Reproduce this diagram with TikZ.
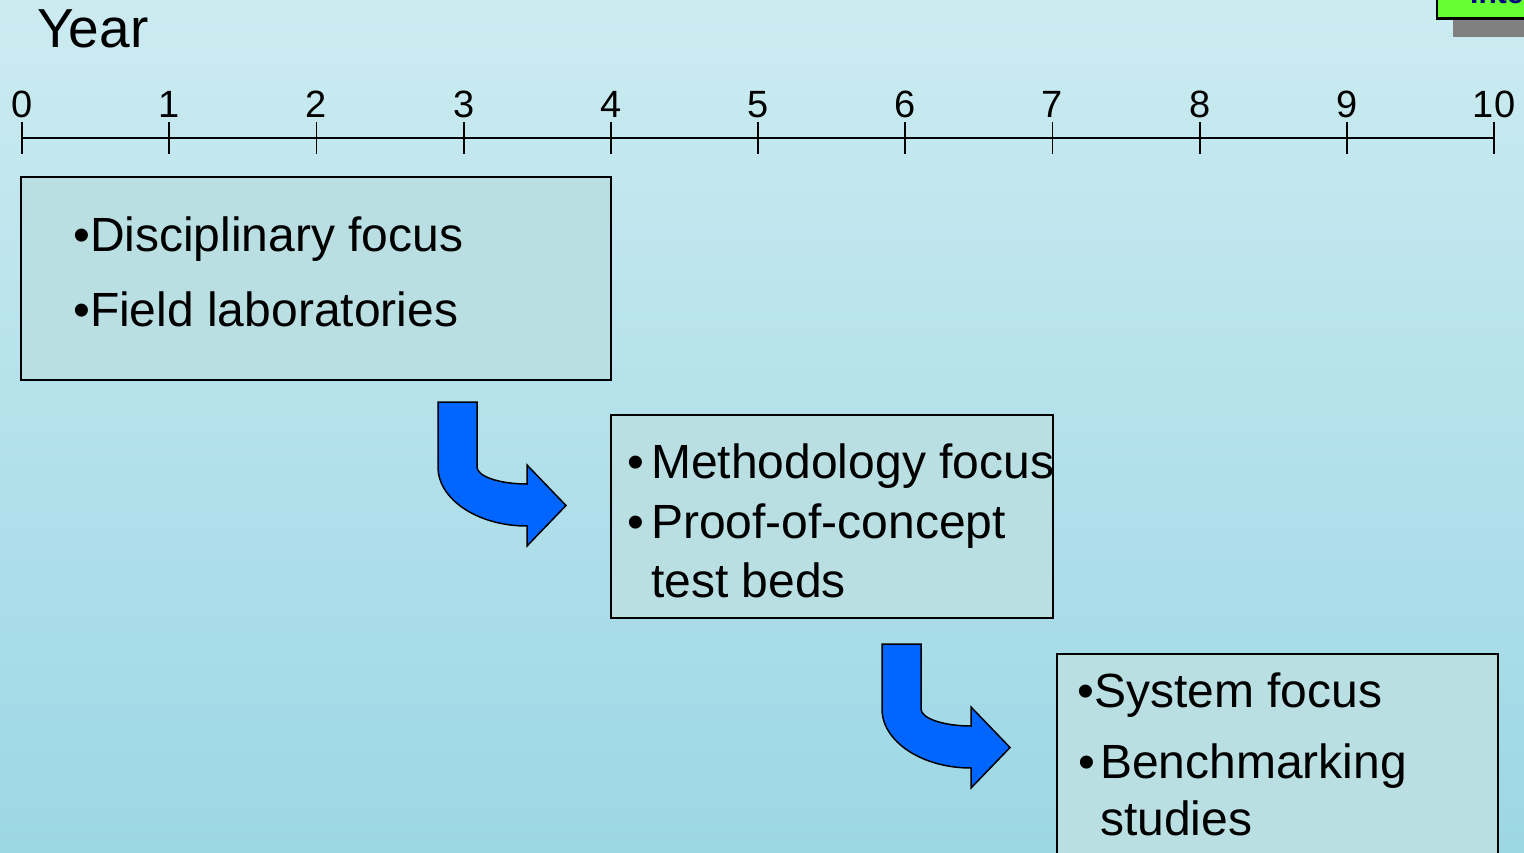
\documentclass[tikz,border=0pt]{standalone}
\usepackage{fontspec}
\setmainfont{Liberation Sans}
\definecolor{bgtop}{RGB}{204,235,241}
\definecolor{bgbottom}{RGB}{156,215,229}
\definecolor{boxfill}{RGB}{185,223,227}
\definecolor{arrowblue}{RGB}{0,102,255}
\definecolor{tabgreen}{RGB}{102,255,51}
\definecolor{tabtext}{RGB}{0,0,128}
\begin{document}
\begin{tikzpicture}[x=1pt,y=-1pt,
  stagebox/.style={draw=black, line width=1.6pt, fill=boxfill, inner sep=0pt},
  itemtext/.style={anchor=base west, inner sep=0pt, font=\fontsize{48}{58}\selectfont},
  ticklabel/.style={anchor=base, inner sep=0pt, font=\fontsize{38}{45}\selectfont},
  axisline/.style={line width=1.8pt},
  arrowshape/.style={fill=arrowblue, draw=black, line width=1.5pt, line join=miter},
  bentarrow/.pic={
    \draw[arrowshape] (0,0) -- (39,0) -- (39,65)
      .. controls (39,74.4) and (61.5,82) .. (89,82)
      -- (89,63) -- (128,103.5) -- (89,144) -- (89,124)
      .. controls (40,124) and (0,97.5) .. (0,65) -- cycle;
  }]
\useasboundingbox (0,0) rectangle (1524,853);
\clip (0,0) rectangle (1524,853);

% background
\shade[top color=bgtop, bottom color=bgbottom] (0,0) rectangle (1524,853);

% tab in the upper right corner, with its drop shadow
\fill[gray] (1453,10) rectangle (1530,37);
\draw[fill=tabgreen, line width=2.4pt] (1437,-40) rectangle (1535,18.5);
\node[anchor=base west, inner sep=0pt, text=tabtext, font=\bfseries\fontsize{30}{36}\selectfont] (tab) at (1470,4) {Inter};

% heading
\node[anchor=base west, inner sep=0pt, font=\fontsize{55}{66}\selectfont] (year) at (37,48) {Year};

% time axis
\coordinate (axstart) at (22,138);
\coordinate (axend) at (1494,138);
\draw[axisline] (axstart) -- (axend);
\foreach \i in {0,...,10}{
  \coordinate (t\i) at ({22+147.2*\i},138);
  \draw[axisline] ([yshift=-16pt]t\i) -- ([yshift=16pt]t\i);
  \node[ticklabel] (n\i) at ([yshift=20pt]t\i) {\i};
}

% stage 1
\node[stagebox, anchor=north west, minimum width=590pt, minimum height=203pt] (box1) at (20,176) {};
\node[itemtext] (b1a) at (73,252) {•Disciplinary focus};
\node[itemtext] (b1b) at (73,326) {•Field laboratories};

% stage 2
\node[stagebox, anchor=north west, minimum width=442pt, minimum height=203pt] (box2) at (610,414) {};
\node[itemtext] (b2a) at (627,478) {•};
\node[itemtext] (b2b) at (651,478) {Methodology focus};
\node[itemtext] (b2c) at (627,538) {•};
\node[itemtext] (b2d) at (651,538) {Proof-of-concept};
\node[itemtext] (b2e) at (651,597) {test beds};

% stage 3
\node[stagebox, anchor=north west, minimum width=441pt, minimum height=240pt] (box3) at (1056,653) {};
\node[itemtext] (b3a) at (1077,707) {•System focus};
\node[itemtext] (b3b) at (1078,778) {•};
\node[itemtext] (b3c) at (1100,778) {Benchmarking};
\node[itemtext] (b3d) at (1100,835) {studies};

% transitions between stages
\pic (arr1) at (438,402) {bentarrow};
\pic (arr2) at (882,644) {bentarrow};
\end{tikzpicture}
\end{document}
